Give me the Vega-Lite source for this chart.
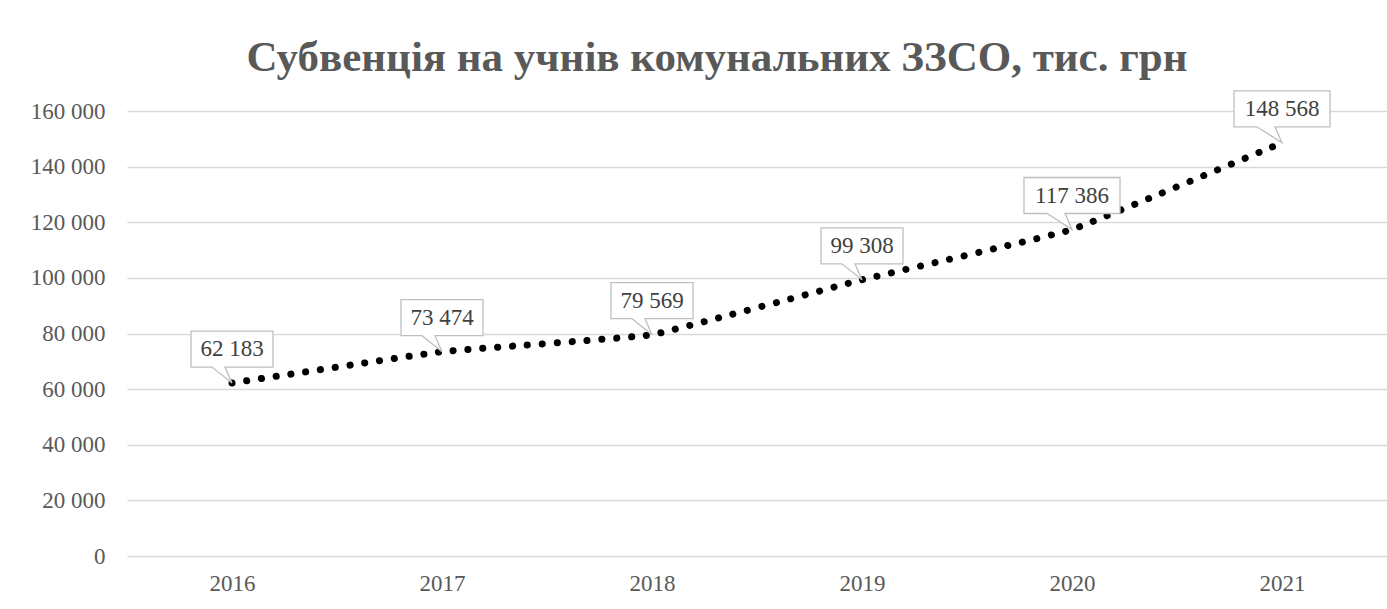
{
  "$schema": "https://vega.github.io/schema/vega-lite/v6.json",
  "autosize": {"type": "none"},
  "padding": {"left": 127, "top": 111, "right": 0, "bottom": 53},
  "width": 1260,
  "height": 445,
  "background": "white",
  "title": {
    "text": "Субвенція на учнів комунальних ЗЗСО, тис. грн",
    "font": "Liberation Serif",
    "fontSize": 43,
    "fontWeight": "bold",
    "color": "#595959",
    "anchor": "middle",
    "baseline": "alphabetic",
    "dx": -40,
    "dy": 55,
    "offset": 29
  },
  "data": {
    "values": [
      {"year": "2016", "value": 62183},
      {"year": "2017", "value": 73474},
      {"year": "2018", "value": 79569},
      {"year": "2019", "value": 99308},
      {"year": "2020", "value": 117386},
      {"year": "2021", "value": 148568}
    ]
  },
  "encoding": {
    "x": {
      "field": "year",
      "type": "ordinal",
      "scale": {"type": "point", "padding": 0.5},
      "axis": {
        "title": null,
        "labelAngle": 0,
        "domain": false,
        "ticks": false,
        "grid": false,
        "labelFont": "Liberation Serif",
        "labelFontSize": 23,
        "labelColor": "#595959",
        "labelPadding": 16
      }
    },
    "y": {
      "field": "value",
      "type": "quantitative",
      "scale": {"domain": [0, 160000], "nice": false},
      "axis": {
        "title": null,
        "values": [0, 20000, 40000, 60000, 80000, 100000, 120000, 140000, 160000],
        "labelExpr": "replace(format(datum.value, ','), regexp(',', 'g'), ' ')",
        "domain": false,
        "ticks": false,
        "grid": true,
        "gridColor": "#d9d9d9",
        "gridWidth": 1.5,
        "labelFont": "Liberation Serif",
        "labelFontSize": 23,
        "labelColor": "#595959",
        "labelPadding": 22
      }
    }
  },
  "layer": [
    {
      "mark": {
        "type": "line",
        "interpolate": "cardinal",
        "tension": 0.75,
        "color": "black",
        "strokeWidth": 7,
        "strokeCap": "round",
        "strokeDash": [0.1, 14.8]
      }
    },
    {
      "transform": [{"filter": "datum.value < 100000"}],
      "mark": {
        "type": "point",
        "shape": "M -41 -52 L 41 -52 L 41 -16 L -7 -16 L 0 0 L -20 -16 L -41 -16 Z",
        "size": 4,
        "filled": true,
        "fill": "white",
        "fillOpacity": 1,
        "stroke": "#bfbfbf",
        "strokeWidth": 1.3,
        "opacity": 1
      }
    },
    {
      "transform": [{"filter": "datum.value >= 100000"}],
      "mark": {
        "type": "point",
        "shape": "M -48 -52 L 48 -52 L 48 -16 L -7 -16 L 0 0 L -25 -16 L -48 -16 Z",
        "size": 4,
        "filled": true,
        "fill": "white",
        "fillOpacity": 1,
        "stroke": "#bfbfbf",
        "strokeWidth": 1.3,
        "opacity": 1
      }
    },
    {
      "mark": {
        "type": "text",
        "font": "Liberation Serif",
        "fontSize": 23,
        "color": "#404040",
        "baseline": "middle",
        "dy": -34
      },
      "encoding": {
        "text": {"field": "value", "type": "quantitative", "format": ","}
      }
    }
  ],
  "config": {
    "view": {"stroke": null},
    "locale": {
      "number": {"decimal": ",", "thousands": " ", "grouping": [3], "currency": ["", ""]}
    }
  }
}
